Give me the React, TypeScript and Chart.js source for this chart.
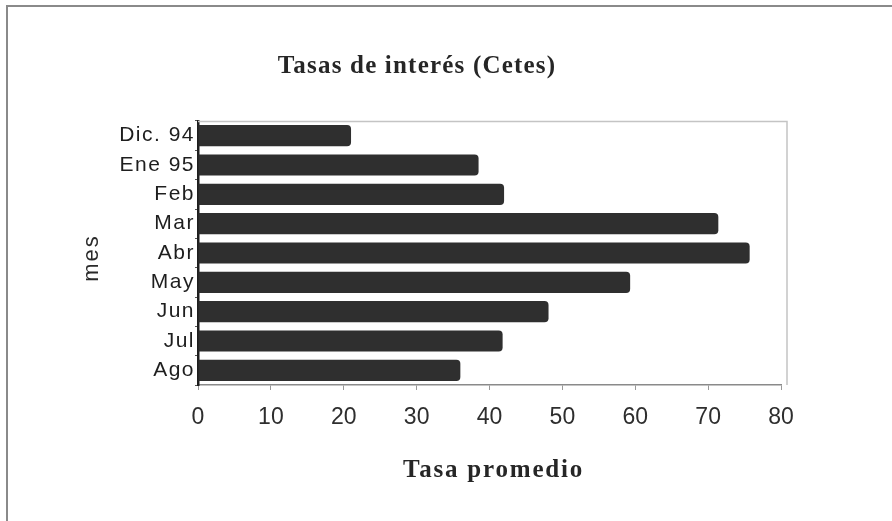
import React, { useEffect, useRef } from "react";
import { Chart, registerables } from "chart.js";

Chart.register(...registerables);

const CATEGORIES = ["Dic. 94", "Ene 95", "Feb", "Mar", "Abr", "May", "Jun", "Jul", "Ago"];
const TASAS = [21, 38.5, 42, 71.4, 75.7, 59.3, 48.1, 41.8, 36.0];
const X_MIN = 0;
const X_MAX = 80;
const X_STEP = 10;
const TITLE = "Tasas de interés (Cetes)";
const X_TITLE = "Tasa promedio";
const Y_TITLE = "mes";

const W = 892;
const H = 521;

const textPlugin = {
  id: "textPlugin",
  beforeDraw(chart: any) {
    chart.ctx.letterSpacing = "1.5px";
  },
  beforeDatasetsDraw(chart: any) {
    const { ctx, chartArea } = chart;
    ctx.save();
    ctx.strokeStyle = "#c4c4c4";
    ctx.lineWidth = 1.5;
    ctx.beginPath();
    ctx.moveTo(chartArea.left, chartArea.top + 0.5);
    ctx.lineTo(chartArea.right + 6, chartArea.top + 0.5);
    ctx.lineTo(chartArea.right + 6, chartArea.bottom);
    ctx.stroke();
    ctx.restore();
  },
  afterDatasetsDraw(chart: any) {
    chart.ctx.letterSpacing = "0px";
  },
  afterDraw(chart: any) {
    const { ctx, chartArea } = chart;
    ctx.save();
    ctx.fillStyle = "#262626";
    ctx.textAlign = "center";
    ctx.textBaseline = "alphabetic";
    ctx.font = 'bold 25px "Liberation Serif"';
    ctx.letterSpacing = "1.2px";
    ctx.fillText(TITLE, 417, 73);
    ctx.letterSpacing = "1.8px";
    ctx.fillText(X_TITLE, (chartArea.left + chartArea.right) / 2 + 4, 477);
    ctx.translate(92, (chartArea.top + chartArea.bottom) / 2 + 5);
    ctx.rotate(-Math.PI / 2);
    ctx.textBaseline = "middle";
    ctx.font = '22px "Liberation Sans"';
    ctx.letterSpacing = "2px";
    ctx.fillStyle = "#2a2a2a";
    ctx.fillText(Y_TITLE, 0, 0);
    ctx.restore();
  },
};

export default function App() {
  const ref = useRef<HTMLCanvasElement | null>(null);

  useEffect(() => {
    if (!ref.current) return;
    const chart = new Chart(ref.current, {
      type: "bar",
      data: {
        labels: CATEGORIES,
        datasets: [
          {
            label: "Tasa",
            data: TASAS,
            backgroundColor: "#2f2f2f",
            borderWidth: 0,
            borderRadius: 4,
            borderSkipped: "start",
            barPercentage: 0.72,
            categoryPercentage: 1,
          },
        ],
      },
      options: {
        indexAxis: "y",
        animation: false,
        responsive: false,
        layout: { padding: { left: 0, top: 121, right: 111, bottom: 0 } },
        plugins: {
          legend: { display: false },
          title: { display: false },
          tooltip: { enabled: false },
        },
        scales: {
          x: {
            min: X_MIN,
            max: X_MAX,
            afterFit: (s: any) => {
              s.height = 136;
            },
            ticks: {
              stepSize: X_STEP,
              color: "#2e2e2e",
              font: { family: "Liberation Sans", size: 23 },
              padding: 14,
              maxRotation: 0,
              z: 1,
            },
            grid: {
              drawOnChartArea: false,
              drawTicks: true,
              tickLength: 5,
              color: "#999",
            },
            border: { color: "#8a8a8a", width: 1.5 },
          },
          y: {
            afterFit: (s: any) => {
              s.width = 198;
            },
            ticks: {
              color: "#1e1e1e",
              font: { family: "Liberation Sans", size: 21 },
              padding: 0,
            },
            grid: {
              drawOnChartArea: false,
              drawTicks: true,
              tickLength: 3,
              color: "#555",
            },
            border: { color: "#1e1e1e", width: 2.5 },
          },
        },
      },
      plugins: [textPlugin],
    });
    return () => chart.destroy();
  }, []);

  return (
    <div style={{ position: "fixed", left: 0, top: 0, width: W, height: H, background: "#fff" }}>
      <div
        style={{
          position: "absolute",
          left: 6,
          top: 5,
          right: 0,
          bottom: 0,
          borderTop: "2px solid #8a8a8a",
          borderLeft: "2px solid #8a8a8a",
        }}
      />
      <canvas ref={ref} width={W} height={H} style={{ position: "absolute", left: 0, top: 0 }} />
    </div>
  );
}
